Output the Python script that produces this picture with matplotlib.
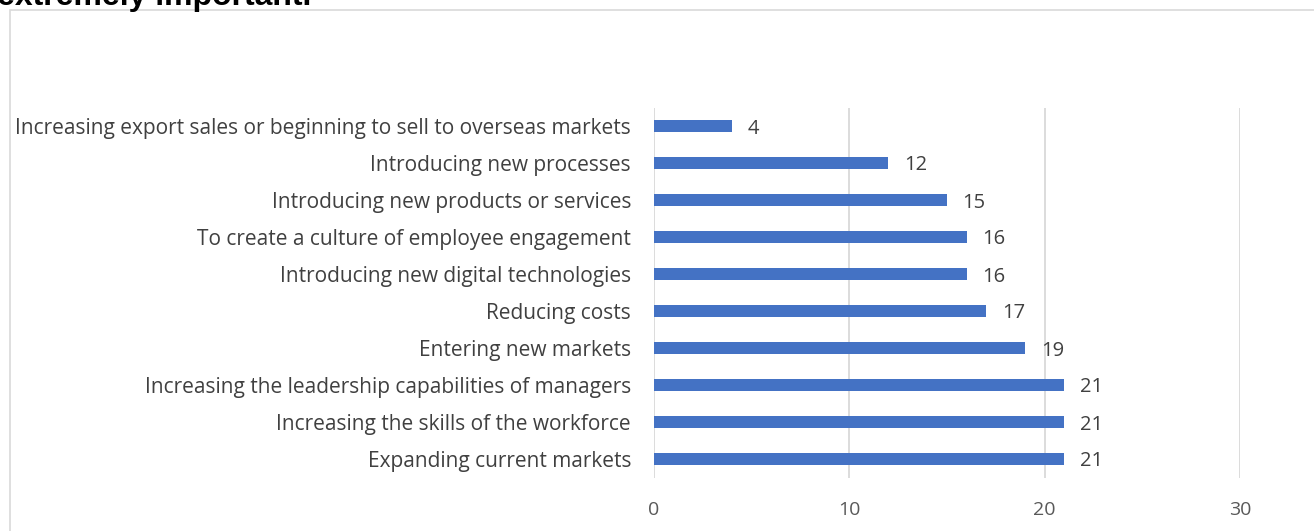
import matplotlib
matplotlib.use("Agg")
import matplotlib.pyplot as plt
from matplotlib.patches import Rectangle

categories = [
    "Expanding current markets",
    "Increasing the skills of the workforce",
    "Increasing the leadership capabilities of managers",
    "Entering new markets",
    "Reducing costs",
    "Introducing new digital technologies",
    "To create a culture of employee engagement",
    "Introducing new products or services",
    "Introducing new processes",
    "Increasing export sales or beginning to sell to overseas markets",
]
values = [21, 21, 21, 19, 17, 16, 16, 15, 12, 4]
x_ticks = [0, 10, 20, 30]

W, H = 1314, 531
fig = plt.figure(figsize=(W / 100, H / 100), dpi=100)
plt.rcParams["font.family"] = ["Open Sans", "DejaVu Sans"]

# chart frame
fig.patches.append(Rectangle((10 / W, -0.01), 1.0, 1 - 10 / H + 0.01,
                             transform=fig.transFigure, fill=False,
                             edgecolor="#d9d9d9", linewidth=1.2, zorder=0))

# heading, partly above the page edge
fig.text(-0.002, 1 - 5 / H, "extremely important.", fontsize=23, fontweight="bold",
         color="black", ha="left", va="baseline", family=["Liberation Sans", "DejaVu Sans"])

ax = fig.add_axes([654 / W, (H - 477.5) / H, (1240 - 654) / W, (477.5 - 107.5) / H])
y = list(range(len(categories)))
ax.barh(y, values, height=0.35, color="#4472c4", zorder=3)
for yi, v in zip(y, values):
    ax.text(v + 0.8, yi, str(v), va="center_baseline", ha="left", fontsize=14.5, color="#404040")

ax.set_xlim(0, 30)
ax.set_ylim(-0.5, len(categories) - 0.5)
ax.set_xticks(x_ticks)
ax.set_xticklabels([str(t) for t in x_ticks])
ax.set_yticks(y)
ax.set_yticklabels(categories)
ax.tick_params(axis="y", length=0, pad=16.5, labelsize=15.05, labelcolor="#404040")
ax.tick_params(axis="x", length=0, pad=17, labelsize=14, labelcolor="#595959")
ax.grid(axis="x", color="#d9d9d9", linewidth=1.3, zorder=0)
for s in ax.spines.values():
    s.set_visible(False)

fig.savefig("out.png", dpi=100)
